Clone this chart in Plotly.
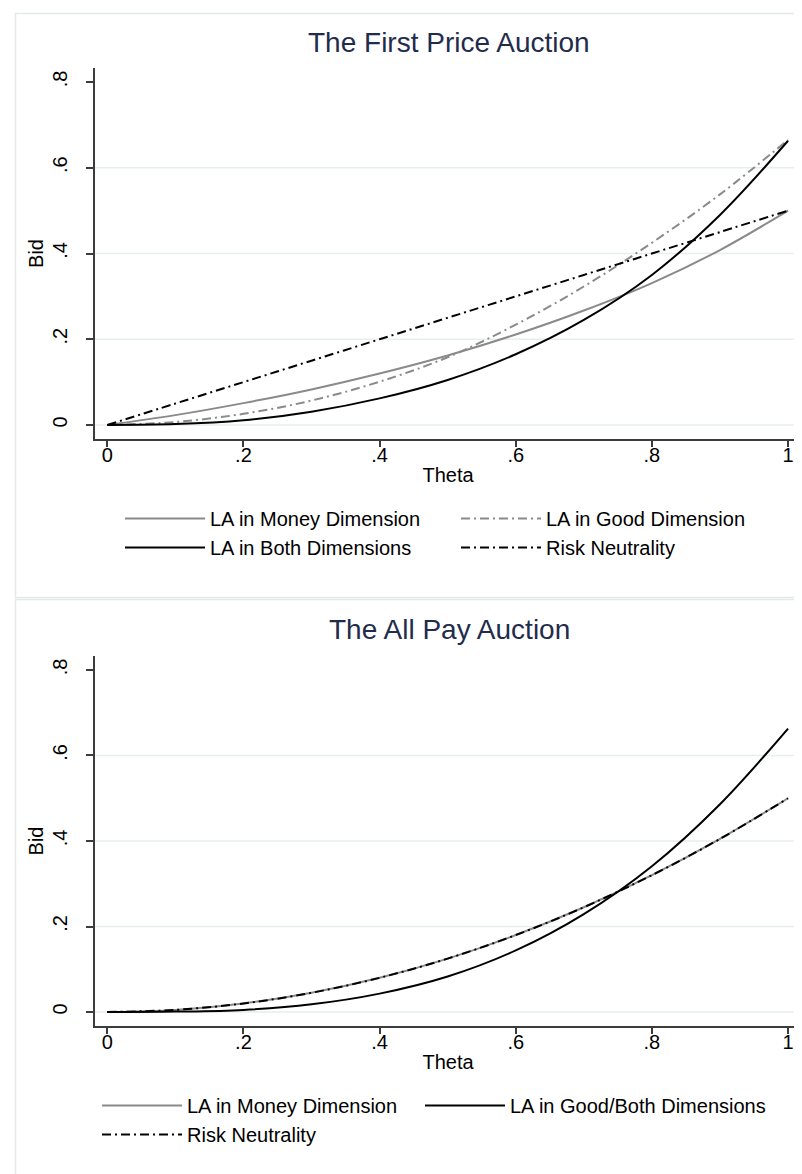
import plotly.graph_objects as go

# ---- data ----
THETA = [0, .1, .2, .3, .4, .5, .6, .7, .8, .9, 1]

FP_MONEY = [0, .023, .051, .083, .12, .162, .211, .267, .331, .408, .5]
FP_GOOD = [0, .007, .026, .057, .101, .158, .234, .323, .425, .538, .665]
FP_BOTH = [0, .002, .011, .031, .062, .105, .165, .245, .35, .49, .663]
FP_RN = [0, .05, .1, .15, .2, .25, .3, .35, .4, .45, .5]

AP_MONEY = [0, .005, .02, .045, .08, .125, .18, .245, .32, .405, .5]
AP_GOODBOTH = [0, .001, .005, .018, .043, .083, .144, .229, .341, .486, .663]
AP_RN = [0, .005, .02, .045, .08, .125, .18, .245, .32, .405, .5]

X_TICKS = [0, .2, .4, .6, .8, 1]
X_LABELS = ["0", ".2", ".4", ".6", ".8", "1"]
Y_TICKS = [0, .2, .4, .6, .8]
Y_LABELS = ["0", ".2", ".4", ".6", ".8"]
GRID_Y = [0, .2, .4, .6]

TITLES = ["The First Price Auction", "The All Pay Auction"]

# ---- styling ----
W, H = 802, 1174
FONT = "Liberation Sans, Arial, Helvetica, sans-serif"
GRAY = "#8a8a8a"
BLACK = "#000000"
DASHDOT = "9px,4px,2px,4px"
AXIS_COL = "#3c3c3c"
GRID_COL = "#e6eeee"
BORDER_COL = "#e2eaea"

def py(px):
    return 1 - px / H

fig = go.Figure()

def add(x, y, name, color, dash, xa, ya, legend):
    fig.add_trace(go.Scatter(
        x=x, y=y, name=name, mode="lines",
        line=dict(color=color, width=2, dash=dash, shape="spline", smoothing=1.0),
        xaxis=xa, yaxis=ya, legend=legend, hoverinfo="skip"))

add(THETA, FP_MONEY, "LA in Money Dimension", GRAY, "solid", "x", "y", "legend")
add(THETA, FP_GOOD, "LA in Good Dimension", GRAY, DASHDOT, "x", "y", "legend")
add(THETA, FP_BOTH, "LA in Both Dimensions", BLACK, "solid", "x", "y", "legend")
add(THETA, FP_RN, "Risk Neutrality", BLACK, DASHDOT, "x", "y", "legend")

add(THETA, AP_MONEY, "LA in Money Dimension", GRAY, "solid", "x2", "y2", "legend2")
add(THETA, AP_GOODBOTH, "LA in Good/Both Dimensions", BLACK, "solid", "x2", "y2", "legend3")
add(THETA, AP_RN, "Risk Neutrality", BLACK, DASHDOT, "x2", "y2", "legend2")

xdom = [87 / W, 793 / W]
common_x = dict(
    range=[-0.018, 1.019], tickmode="array", tickvals=X_TICKS, ticktext=X_LABELS,
    showgrid=False, zeroline=False, showline=True, linecolor=AXIS_COL, linewidth=1.5,
    ticks="outside", ticklen=6, tickwidth=1.5, tickcolor=AXIS_COL,
    tickfont=dict(family=FONT, size=20, color="black"), ticklabelstandoff=-9,
    title=dict(text="Theta", font=dict(family=FONT, size=20, color="black"), standoff=3),
    automargin=False, fixedrange=True)
common_y = dict(
    range=[-0.0327, 0.8327], tickmode="array", tickvals=Y_TICKS, ticktext=Y_LABELS,
    tickangle=-90, showgrid=False, zeroline=False, showline=True, linecolor=AXIS_COL,
    linewidth=1.5, ticks="outside", ticklen=7, tickwidth=1.5, tickcolor=AXIS_COL,
    tickfont=dict(family=FONT, size=20, color="black"), ticklabelstandoff=11,
    title=dict(text="Bid", font=dict(family=FONT, size=20, color="black"), standoff=0),
    automargin=False, fixedrange=True)

fig.update_layout(
    xaxis=dict(domain=xdom, anchor="y", **common_x),
    yaxis=dict(domain=[py(431), py(60)], anchor="x", **common_y),
    xaxis2=dict(domain=xdom, anchor="y2", **common_x),
    yaxis2=dict(domain=[py(1018), py(648)], anchor="x2", **common_y),
)

legend_common = dict(
    xanchor="left", yanchor="top", itemwidth=80,
    font=dict(family=FONT, size=20, color="black"), bgcolor="rgba(0,0,0,0)",
    traceorder="normal", tracegroupgap=0, itemclick=False, itemdoubleclick=False)
fig.update_layout(
    legend=dict(orientation="h", x=112 / W, y=py(491), entrywidth=241, **legend_common),
    legend2=dict(orientation="v", x=89 / W, y=py(1078), **legend_common),
    legend3=dict(orientation="v", x=412 / W, y=py(1078), **legend_common),
)

# gridlines (Stata omits the one at the top tick)
shapes = []
for ax_y, ax_x in (("y", "x"), ("y2", "x2")):
    for g in GRID_Y:
        shapes.append(dict(type="line", xref=f"{ax_x} domain", yref=ax_y,
                           x0=0, x1=1, y0=g, y1=g, layer="below",
                           line=dict(color=GRID_COL, width=1.5)))
# panel borders
shapes.append(dict(type="rect", xref="paper", yref="paper",
                   x0=7.5 / W, x1=1.02, y0=py(589.5), y1=py(5.5),
                   line=dict(color=BORDER_COL, width=1.5), layer="below"))
shapes.append(dict(type="rect", xref="paper", yref="paper",
                   x0=7.5 / W, x1=1.02, y0=py(1168), y1=py(591.5),
                   line=dict(color=BORDER_COL, width=1.5), layer="below"))

annotations = [
    dict(text=TITLES[0], xref="paper", yref="paper", x=441 / W, y=py(34),
         xanchor="center", yanchor="middle", showarrow=False,
         font=dict(family=FONT, size=28, color="#1f2c4c")),
    dict(text=TITLES[1], xref="paper", yref="paper", x=441 / W, y=py(621),
         xanchor="center", yanchor="middle", showarrow=False,
         font=dict(family=FONT, size=28, color="#1f2c4c")),
]

fig.update_layout(
    width=W, height=H, margin=dict(l=0, r=0, t=0, b=0),
    paper_bgcolor="white", plot_bgcolor="white", template="none",
    shapes=shapes, annotations=annotations, showlegend=True,
    font=dict(family=FONT, color="black"),
)

fig.write_html("out.html", config={"displayModeBar": False})
